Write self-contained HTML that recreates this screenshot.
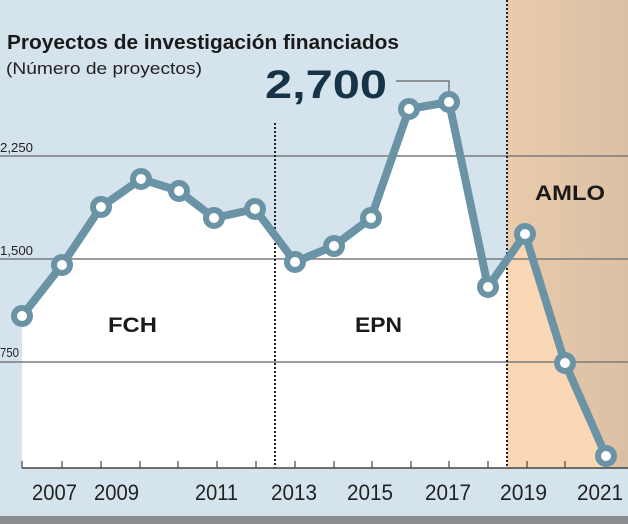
<!DOCTYPE html>
<html><head><meta charset="utf-8"><style>
html,body{margin:0;padding:0;background:#d5e3ec}
svg{display:block}
text{font-family:"Liberation Sans",sans-serif}
</style></head><body>
<svg width="628" height="524" viewBox="0 0 628 524" xmlns="http://www.w3.org/2000/svg">
<defs>
<linearGradient id="tan" x1="0" x2="1"><stop offset="0" stop-color="#e9cbab"/><stop offset="1" stop-color="#dcc0a5"/></linearGradient>
<clipPath id="right"><rect x="507" y="0" width="121" height="468"/></clipPath>
</defs>
<rect width="628" height="524" fill="#d5e3ec"/>
<rect x="507" y="0" width="121" height="468" fill="url(#tan)"/>
<polygon id="area" points="22,316 62,265 101,207 141,179 179,191 214,218 255,209 295,262 334,246 371,218 409,109 449,102 488,287 525,234 565,363 606,456 606,468 22,468" fill="#ffffff"/>
<polygon points="22,316 62,265 101,207 141,179 179,191 214,218 255,209 295,262 334,246 371,218 409,109 449,102 488,287 525,234 565,363 606,456 606,468 22,468" fill="#fbd8b5" clip-path="url(#right)"/>
<rect x="0" y="516" width="628" height="8" fill="#8a8d8f"/>
<g stroke="#7b7b7b" stroke-width="1.5">
<line x1="0" y1="156" x2="628" y2="156"/>
<line x1="0" y1="259" x2="628" y2="259"/>
<line x1="0" y1="362" x2="628" y2="362"/>
</g>
<g stroke="#222" stroke-width="2" stroke-dasharray="2,2">
<line x1="275" y1="123" x2="275" y2="468"/>
<line x1="507" y1="0" x2="507" y2="468"/>
</g>
<line x1="22" y1="468" x2="628" y2="468" stroke="#444" stroke-width="1.5"/>
<g stroke="#444" stroke-width="1.2">
<line x1="22" y1="461" x2="22" y2="468"/><line x1="62" y1="461" x2="62" y2="468"/><line x1="101" y1="461" x2="101" y2="468"/><line x1="140" y1="461" x2="140" y2="468"/><line x1="178" y1="461" x2="178" y2="468"/><line x1="217" y1="461" x2="217" y2="468"/><line x1="256" y1="461" x2="256" y2="468"/><line x1="295" y1="461" x2="295" y2="468"/><line x1="334" y1="461" x2="334" y2="468"/><line x1="372" y1="461" x2="372" y2="468"/><line x1="411" y1="461" x2="411" y2="468"/><line x1="449" y1="461" x2="449" y2="468"/><line x1="488" y1="461" x2="488" y2="468"/><line x1="527" y1="461" x2="527" y2="468"/><line x1="565" y1="461" x2="565" y2="468"/>
</g>
<polyline points="396,81 449,81 449,95" fill="none" stroke="#444" stroke-width="1"/>
<polyline points="22,316 62,265 101,207 141,179 179,191 214,218 255,209 295,262 334,246 371,218 409,109 449,102 488,287 525,234 565,363 606,456" fill="none" stroke="#6a93a6" stroke-width="8" stroke-linejoin="round"/>
<g fill="#ffffff" stroke="#6a93a6" stroke-width="6">
<circle cx="22" cy="316" r="8"/><circle cx="62" cy="265" r="8"/><circle cx="101" cy="207" r="8"/><circle cx="141" cy="179" r="8"/><circle cx="179" cy="191" r="8"/><circle cx="214" cy="218" r="8"/><circle cx="255" cy="209" r="8"/><circle cx="295" cy="262" r="8"/><circle cx="334" cy="246" r="8"/><circle cx="371" cy="218" r="8"/><circle cx="409" cy="109" r="8"/><circle cx="449" cy="102" r="8"/><circle cx="488" cy="287" r="8"/><circle cx="525" cy="234" r="8"/><circle cx="565" cy="363" r="8"/><circle cx="606" cy="456" r="8"/>
</g>
<text x="7" y="49" font-size="20" font-weight="bold" fill="#1a1a1a" textLength="392" lengthAdjust="spacingAndGlyphs">Proyectos de investigación financiados</text>
<text x="6" y="74" font-size="17" fill="#222" textLength="196" lengthAdjust="spacingAndGlyphs">(Número de proyectos)</text>
<text x="265" y="98" font-size="40" font-weight="bold" fill="#173347" textLength="122" lengthAdjust="spacingAndGlyphs">2,700</text>
<g font-size="13" fill="#222">
<text x="0" y="152" textLength="33" lengthAdjust="spacingAndGlyphs">2,250</text>
<text x="0" y="255" textLength="33" lengthAdjust="spacingAndGlyphs">1,500</text>
<text x="0" y="357" textLength="19" lengthAdjust="spacingAndGlyphs">750</text>
</g>
<g font-size="21" fill="#1a1a1a" font-weight="bold">
<text x="108" y="332" textLength="49" lengthAdjust="spacingAndGlyphs">FCH</text>
<text x="355" y="332" textLength="47" lengthAdjust="spacingAndGlyphs">EPN</text>
<text x="535" y="200" textLength="70" lengthAdjust="spacingAndGlyphs">AMLO</text>
</g>
<g font-size="22" fill="#222">
<text x="32" y="500" textLength="45" lengthAdjust="spacingAndGlyphs">2007</text>
<text x="94" y="500" textLength="45" lengthAdjust="spacingAndGlyphs">2009</text>
<text x="195" y="500" textLength="43" lengthAdjust="spacingAndGlyphs">2011</text>
<text x="271" y="500" textLength="46" lengthAdjust="spacingAndGlyphs">2013</text>
<text x="347" y="500" textLength="46" lengthAdjust="spacingAndGlyphs">2015</text>
<text x="425" y="500" textLength="46" lengthAdjust="spacingAndGlyphs">2017</text>
<text x="500" y="500" textLength="47" lengthAdjust="spacingAndGlyphs">2019</text>
<text x="577" y="500" textLength="46" lengthAdjust="spacingAndGlyphs">2021</text>
</g>
</svg>
</body></html>
